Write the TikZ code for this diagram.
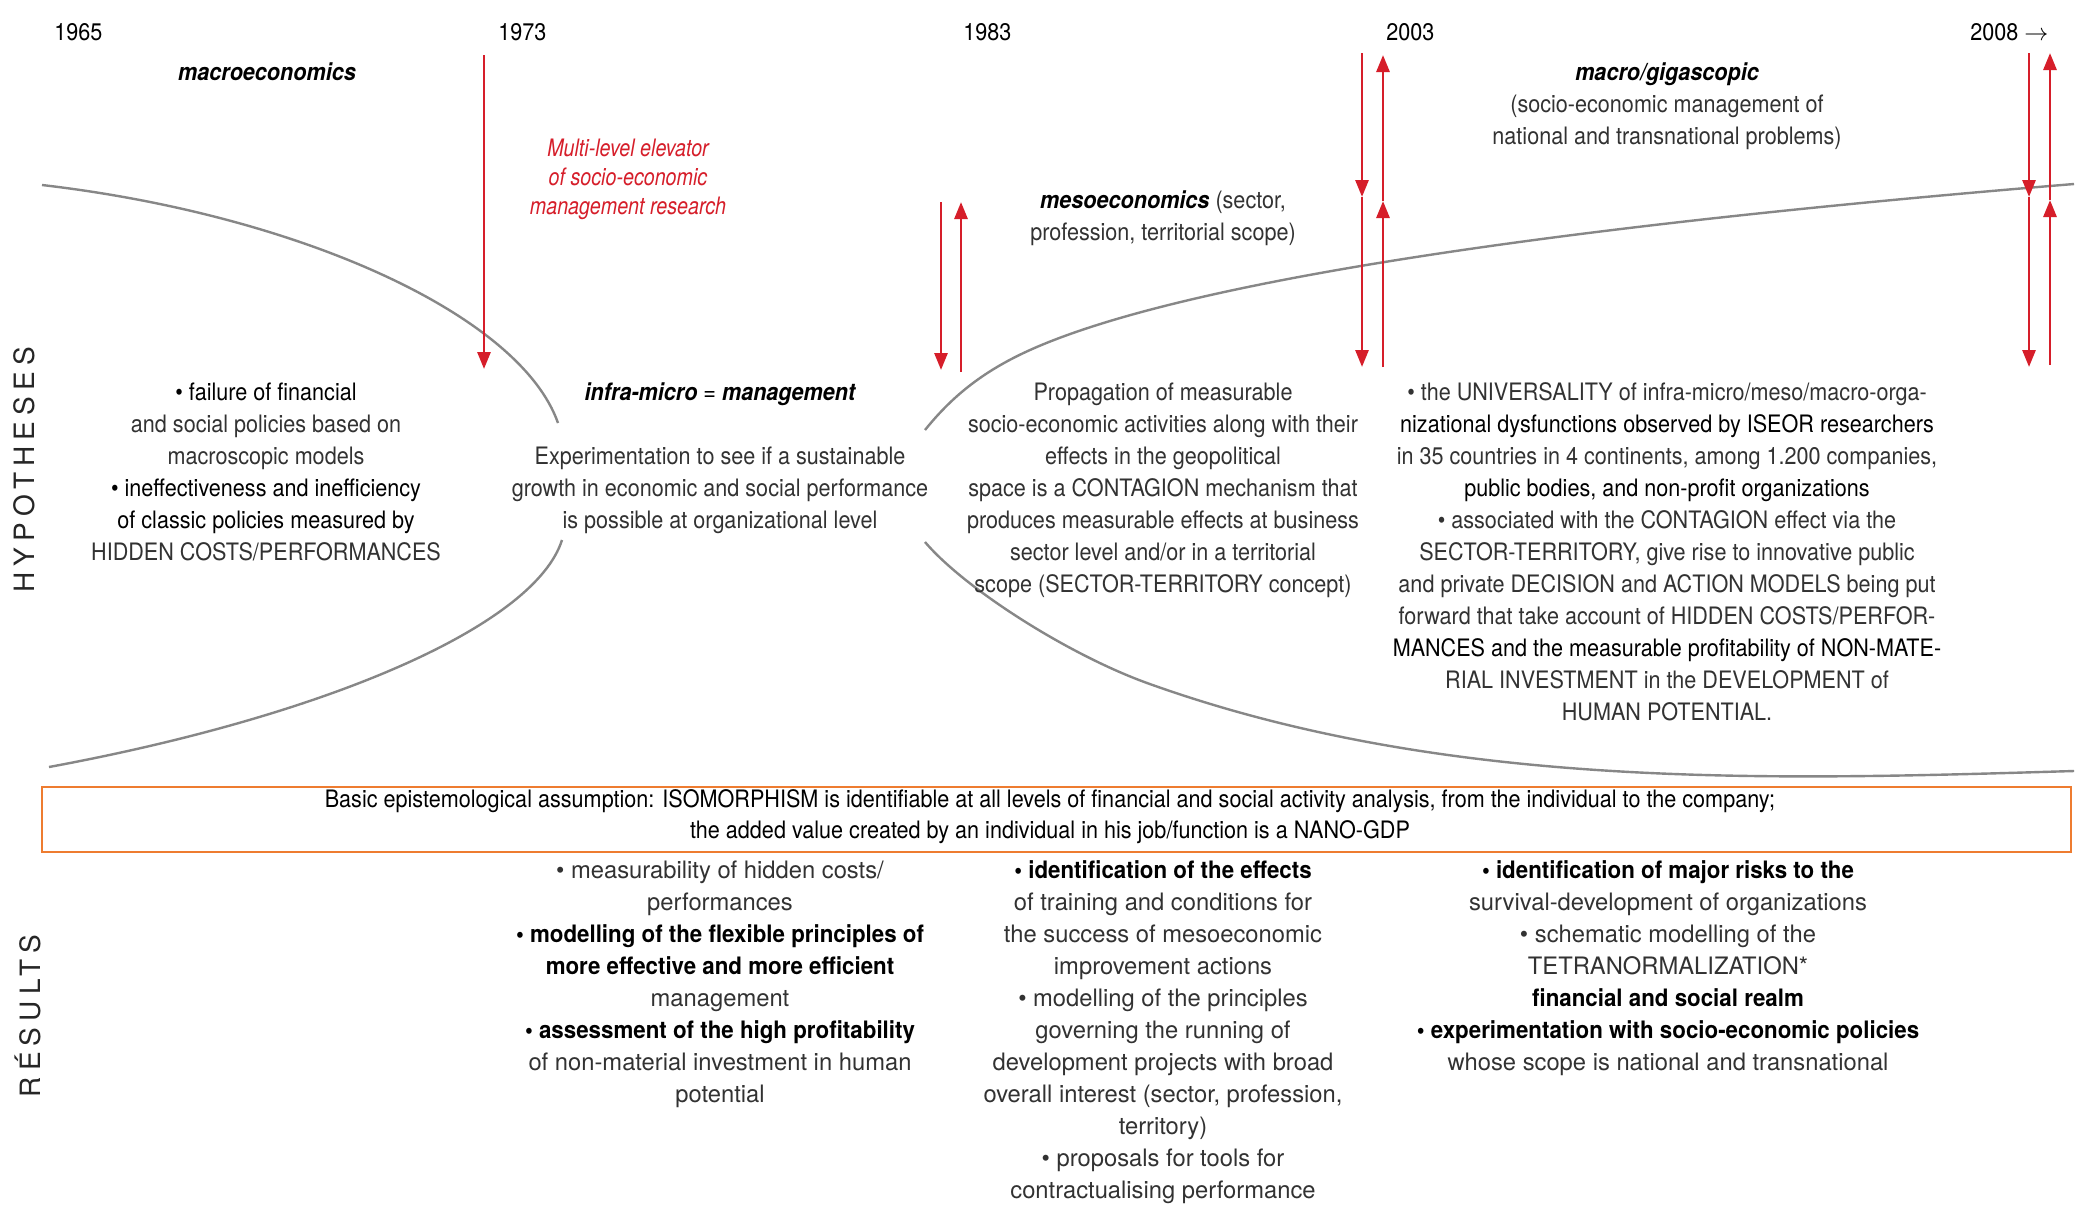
\documentclass[tikz,border=0pt]{standalone}
\usepackage{fontspec}
\setmainfont{TeX Gyre Heros}[FakeStretch=0.9]
\newfontfamily\narrowfont{TeX Gyre Heros}[FakeStretch=0.82]
\newfontfamily\resfont{TeX Gyre Heros}[FakeStretch=0.99]
\newfontfamily\boldnarrow{TeX Gyre Heros}[FakeStretch=0.93]
\newfontfamily\sidefont{TeX Gyre Heros}[LetterSpace=22]
\usetikzlibrary{arrows.meta}
\definecolor{elevred}{RGB}{214,30,42}
\definecolor{curvegray}{RGB}{135,135,135}
\definecolor{boxorange}{RGB}{238,124,48}
\definecolor{lighttext}{RGB}{50,50,50}
\newcommand\med[1]{\textcolor{black}{#1}}
\newcommand\bld[1]{{\boldnarrow\bfseries\color{black}#1}}
\newcommand\fst{\rule{0pt}{0.75em}}
\begin{document}
\begin{tikzpicture}[x=0.5pt,y=-0.5pt,
  txt/.style={font=\fontsize{12}{16}\selectfont, text=lighttext, align=center, inner sep=0pt, anchor=north},
  restxt/.style={font=\resfont\fontsize{12}{16}\selectfont, text=lighttext, align=center, inner sep=0pt, anchor=north},
  yr/.style={font=\fontsize{12}{16}\selectfont, text=black, anchor=base west, inner sep=0pt},
  ttl/.style={font=\fontsize{12}{16}\selectfont, text=black, align=center, inner sep=0pt, anchor=north},
  redtxt/.style={font=\narrowfont\itshape\fontsize{12}{14.5}\selectfont, text=elevred, align=center, inner sep=0pt, anchor=north},
  boxtxt/.style={font=\fontsize{12}{15.5}\selectfont, text=black, align=center, inner sep=0pt, anchor=north},
  side/.style={font=\sidefont\fontsize{14}{16}\selectfont, text=black!85, rotate=90, anchor=base, inner sep=0pt},
  redarr/.style={draw=elevred, line width=1.4pt, -{Triangle[length=8.5pt,width=6.5pt]}},
  curve/.style={draw=curvegray, line width=1.2pt},
  frame/.style={draw=boxorange, line width=1.3pt}
]
\fill[white] (0,0) rectangle (2087,1221);
\useasboundingbox (0,0) rectangle (2087,1221);

% curves
\draw[curve] (42,185) .. controls (300,215) and (520,315) .. (558,423);
\draw[curve] (562,540) .. controls (535,625) and (330,715) .. (49,767);
\draw[curve] (925,430) .. controls (950,399) and (980,372.5) .. (1030,350)
                        .. controls (1210,269) and (1674,217) .. (2074,184);
\draw[curve] (925,542) .. controls (964,588) and (1067,654) .. (1147,683)
                        .. controls (1447,791) and (1774,780) .. (2074,771);

% years
\node[yr] (y1965) at (54,40) {1965};
\node[yr] (y1973) at (498,40) {1973};
\node[yr] (y1983) at (963,40) {1983};
\node[yr] (y2003) at (1386,40) {2003};
\node[yr] (y2008) at (1970,40) {2008 $\rightarrow$};

% side labels
\node[side] (hyp) at (34,470) {HYPOTHESES};
\node[side] (res) at (40,1016) {RÉSULTS};

% titles
\node[ttl] (macro) at (267,62) {\fst\bfseries\itshape macroeconomics};
\node[redtxt] (elev) at (628,138) {\fst Multi-level elevator\\of socio-economic\\management research};
\node[ttl] (meso) at (1163,190) {\fst{\bfseries\itshape mesoeconomics} \color{lighttext}(sector,\\ \color{lighttext}profession, territorial scope)};
\node[ttl] (giga) at (1667,62) {\fst{\bfseries\itshape macro/gigascopic}\\ \color{lighttext}(socio-economic management of\\ \color{lighttext}national and transnational problems)};
\node[ttl] (infra) at (720,382) {\fst{\bfseries\itshape infra-micro} = {\bfseries\itshape management}};

% hypotheses
\node[txt] (h1) at (266,382) {\fst\med{• failure of financial}\\and social policies based on\\macroscopic models\\\med{• ineffectiveness and inefficiency}\\\med{of classic policies measured by}\\HIDDEN COSTS/PERFORMANCES};
\node[txt] (h2) at (720,446) {\fst Experimentation to see if a sustainable\\growth in economic and social performance\\is possible at organizational level};
\node[txt] (h3) at (1163,382) {\fst Propagation of measurable\\socio-economic activities along with their\\effects in the geopolitical\\space is a CONTAGION mechanism that\\produces measurable effects at business\\sector level and/or in a territorial\\scope (SECTOR-TERRITORY concept)};
\node[txt] (h4) at (1667,382) {\fst • the UNIVERSALITY of infra-micro/meso/macro-orga-\\\med{nizational dysfunctions observed by ISEOR researchers}\\in 35 countries in 4 continents, among 1.200 companies,\\\med{public bodies, and non-profit organizations}\\• associated with the CONTAGION effect via the\\SECTOR-TERRITORY, give rise to innovative public\\and private DECISION and ACTION MODELS being put\\forward that take account of HIDDEN COSTS/PERFOR-\\\med{MANCES and the measurable profitability of NON-MATE-}\\RIAL INVESTMENT in the DEVELOPMENT of\\HUMAN POTENTIAL.};

% assumption box
\draw[frame] (42,787) rectangle (2071,852);
\node[boxtxt] (assume) at (1050,789) {\fst Basic epistemological assumption: ISOMORPHISM is identifiable at all levels of financial and social activity analysis, from the individual to the company;\\the added value created by an individual in his job/function is a NANO-GDP};

% results
\node[restxt] (r1) at (720,860) {\fst • measurability of hidden costs/\\performances\\\bld{• modelling of the flexible principles of}\\\bld{more effective and more efficient}\\management\\\bld{• assessment of the high profitability}\\of non-material investment in human\\potential};
\node[restxt] (r2) at (1163,860) {\fst\bld{• identification of the effects}\\of training and conditions for\\the success of mesoeconomic\\improvement actions\\• modelling of the principles\\governing the running of\\development projects with broad\\overall interest (sector, profession,\\territory)\\• proposals for tools for\\contractualising performance};
\node[restxt] (r3) at (1668,860) {\fst\bld{• identification of major risks to the}\\survival-development of organizations\\• schematic modelling of the\\TETRANORMALIZATION*\\\bld{financial and social realm}\\\bld{• experimentation with socio-economic policies}\\whose scope is national and transnational};

% elevator arrows
\coordinate (a1s) at (484,55);   \coordinate (a1e) at (484,369);
\coordinate (b1s) at (941,202);  \coordinate (b1e) at (941,370);
\coordinate (b2s) at (961,372);  \coordinate (b2e) at (961,202);
\coordinate (c1s) at (1362,53);  \coordinate (c1m) at (1362,197); \coordinate (c1e) at (1362,367);
\coordinate (c2s) at (1383,367); \coordinate (c2m) at (1383,201); \coordinate (c2e) at (1383,55);
\coordinate (d1s) at (2029,53);  \coordinate (d1m) at (2029,197); \coordinate (d1e) at (2029,367);
\coordinate (d2s) at (2050,365); \coordinate (d2m) at (2050,200); \coordinate (d2e) at (2050,53);

\draw[redarr] (a1s) -- (a1e);
\draw[redarr] (b1s) -- (b1e);
\draw[redarr] (b2s) -- (b2e);
\draw[redarr] (c1s) -- (c1m);
\draw[redarr] (c1m) -- (c1e);
\draw[redarr] (c2s) -- (c2m);
\draw[redarr] (c2m) -- (c2e);
\draw[redarr] (d1s) -- (d1m);
\draw[redarr] (d1m) -- (d1e);
\draw[redarr] (d2s) -- (d2m);
\draw[redarr] (d2m) -- (d2e);
\end{tikzpicture}
\end{document}
